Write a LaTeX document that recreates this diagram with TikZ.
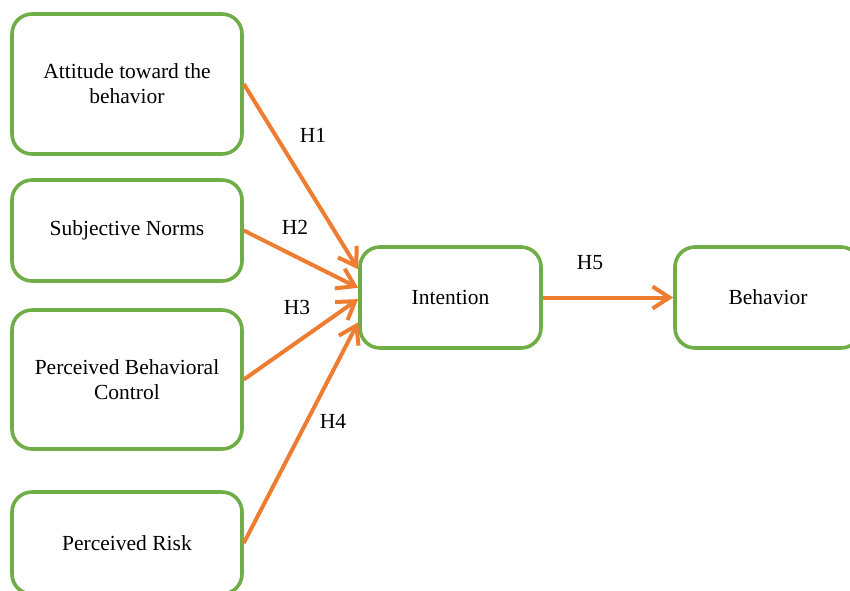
\documentclass[tikz,border=0pt]{standalone}
\usepackage{fontspec}
\setmainfont{Liberation Serif}
\usepackage{xcolor}
\usepackage{tikz}
\usetikzlibrary{arrows.meta, positioning}

\definecolor{boxgreen}{HTML}{70AD47}
\definecolor{arrorange}{HTML}{ED7D31}

\begin{document}
\begin{tikzpicture}[
        x=1pt, y=-1pt,
        box/.style={draw=boxgreen, line width=3.6pt, rounded corners=20pt, align=center,
            font=\fontsize{21.5}{25}\selectfont, minimum width=230pt},
        hyp/.style={font=\fontsize{21.5}{25}\selectfont, inner sep=0pt},
        link/.style={draw=arrorange, line width=4pt, -{Straight Barb[length=17pt, width=22pt, line width=4pt]}}
    ]
    \useasboundingbox (0,0) rectangle (850,590);

    % constructs
    \node[box, minimum height=140pt] (att) at (127,84) {Attitude toward the\\behavior};
    \node[box, minimum height=101pt] (sub) at (127,230.5) {Subjective Norms};
    \node[box, minimum height=139pt] (pbc) at (127,379.5) {Perceived Behavioral\\Control};
    \node[box, minimum height=102pt] (risk) at (127,543) {Perceived Risk};
    \node[box, minimum width=181pt, minimum height=101pt] (int) at (450.5,297.5) {Intention};
    \node[box, minimum width=186pt, minimum height=101pt] (beh) at (768,297.5) {Behavior};

    % hypotheses
    \draw[link] (att.east) -- (int.163.9);
    \draw[link] (sub.east) -- (int.174.3);
    \draw[link] (pbc.east) -- (int.181.9);
    \draw[link] (risk.east) -- (int.195.5);
    \draw[link] (int.east) -- (beh.west);

    \node[hyp] (h1) at (313,135) {H1};
    \node[hyp] (h2) at (295,227) {H2};
    \node[hyp] (h3) at (297,307) {H3};
    \node[hyp] (h4) at (333,421) {H4};
    \node[hyp] (h5) at (590,263) {H5};

\end{tikzpicture}
\end{document}
